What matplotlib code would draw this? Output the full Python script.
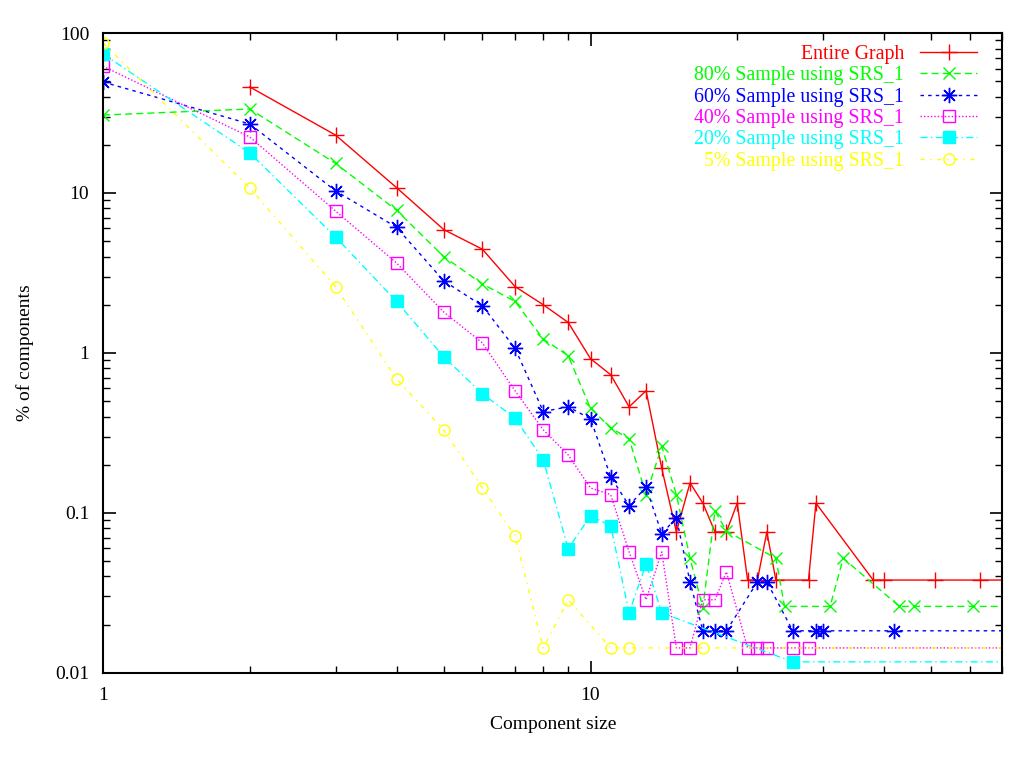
import matplotlib.pyplot as plt
from matplotlib.ticker import FixedLocator, NullFormatter, LogLocator

# component size -> % of components
entire_x = [2, 3, 4, 5, 6, 7, 8, 9, 10, 11, 12, 13, 14, 15, 16, 17, 18, 19, 20,
            21, 22, 23, 24, 28, 29, 38, 40, 51, 63, 90]
entire_y = [46, 23, 10.8, 5.9, 4.45, 2.6, 2.0, 1.55, 0.92, 0.73, 0.46, 0.58, 0.19,
            0.076, 0.154, 0.115, 0.076, 0.076, 0.115, 0.038, 0.038, 0.076, 0.038,
            0.038, 0.115, 0.038, 0.038, 0.038, 0.038, 0.038]

s80_x = [1, 2, 3, 4, 5, 6, 7, 8, 9, 10, 11, 12, 13, 14, 15, 16, 17, 18, 19, 24,
         25, 31, 33, 43, 46, 61, 90]
s80_y = [30.7, 33.5, 15.3, 7.8, 4.0, 2.7, 2.1, 1.22, 0.96, 0.45, 0.34, 0.29, 0.13,
         0.26, 0.13, 0.052, 0.0255, 0.103, 0.077, 0.052, 0.026, 0.026, 0.052,
         0.026, 0.026, 0.026, 0.026]

s60_x = [1, 2, 3, 4, 5, 6, 7, 8, 9, 10, 11, 12, 13, 14, 15, 16, 17, 18, 19, 22,
         23, 26, 29, 30, 42, 90]
s60_y = [49.4, 27, 10.3, 6.1, 2.82, 1.97, 1.07, 0.43, 0.46, 0.387, 0.168, 0.111,
         0.145, 0.074, 0.093, 0.037, 0.0183, 0.0183, 0.0183, 0.037, 0.037, 0.0183,
         0.0183, 0.0183, 0.0183, 0.0183]

s40_x = [1, 2, 3, 4, 5, 6, 7, 8, 9, 10, 11, 12, 13, 14, 15, 16, 17, 18, 19, 21,
         22, 23, 26, 28, 90]
s40_y = [62, 22.4, 7.7, 3.65, 1.8, 1.155, 0.58, 0.33, 0.23, 0.143, 0.13, 0.057,
         0.0286, 0.057, 0.0143, 0.0143, 0.0286, 0.0286, 0.0428, 0.0143, 0.0143,
         0.0143, 0.0143, 0.0143, 0.0143]

s20_x = [1, 2, 3, 4, 5, 6, 7, 8, 9, 10, 11, 12, 13, 14, 26, 90]
s20_y = [74, 17.8, 5.3, 2.1, 0.944, 0.555, 0.392, 0.214, 0.0596, 0.0958, 0.083,
         0.0237, 0.048, 0.0237, 0.0117, 0.0117]

s5_x = [1, 2, 3, 4, 5, 6, 7, 8, 9, 11, 12, 17, 90]
s5_y = [86.6, 10.75, 2.59, 0.688, 0.33, 0.143, 0.072, 0.0143, 0.0286, 0.0143,
        0.0143, 0.0143, 0.0143]

labels = ["Entire Graph", "80% Sample using SRS_1", "60% Sample using SRS_1",
          "40% Sample using SRS_1", "20% Sample using SRS_1", "5% Sample using SRS_1"]
series = [(entire_x, entire_y), (s80_x, s80_y), (s60_x, s60_y),
          (s40_x, s40_y), (s20_x, s20_y), (s5_x, s5_y)]

colors = ["#ff0000", "#00ff00", "#0000ff", "#ff00ff", "#00ffff", "#ffff00"]
styles = ["-", (0, (5, 3)), (0, (2.5, 3)), (0, (1, 1.5)), (0, (5, 2.5, 1, 2.5)),
          (0, (3, 4, 1, 4))]
markers = [dict(marker="+", ms=11, mew=1.0),
           dict(marker="x", ms=9, mew=1.0),
           dict(marker=(8, 2, 0), ms=11, mew=1.0),
           dict(marker="s", ms=8, mew=1.0, mfc="none"),
           dict(marker="s", ms=8, mew=1.0),
           dict(marker="o", ms=8, mew=1.0, mfc="none")]

plt.rcParams["font.family"] = ["Liberation Serif", "DejaVu Serif"]

fig = plt.figure(figsize=(10.24, 7.68), dpi=100)
ax = fig.add_axes([0.1006, 0.124, 0.8784, 0.833])

for (x, y), label, c, ls, mk in zip(series, labels, colors, styles, markers):
    ax.plot(x, y, color=c, linestyle=ls, linewidth=1.0, label=label, **mk)

ax.set_xscale("log")
ax.set_yscale("log")
ax.set_xlim(1, 70)
ax.set_ylim(0.01, 100)

ax.xaxis.set_major_locator(FixedLocator([1, 10]))
ax.xaxis.set_major_formatter(plt.FixedFormatter(["1", "10"]))
ax.xaxis.set_minor_locator(LogLocator(base=10, subs=range(2, 10)))
ax.xaxis.set_minor_formatter(NullFormatter())
ax.yaxis.set_major_locator(FixedLocator([0.01, 0.1, 1, 10, 100]))
ax.yaxis.set_major_formatter(plt.FixedFormatter(["0.01", "0.1", "1", "10", "100"]))
ax.yaxis.set_minor_locator(LogLocator(base=10, subs=range(2, 10)))
ax.yaxis.set_minor_formatter(NullFormatter())

ax.tick_params(which="both", direction="in", top=True, right=True, labelsize=14)
ax.tick_params(which="major", length=9, width=1.2, pad=10)
ax.tick_params(which="minor", length=5, width=1.0)
for sp in ax.spines.values():
    sp.set_linewidth(1.5)

ax.set_xlabel("Component size", fontsize=14, labelpad=9)
ax.set_ylabel("% of components", fontsize=14, labelpad=15)

leg = ax.legend(loc="upper right", bbox_to_anchor=(0.981, 0.994), borderaxespad=0,
                frameon=False, markerfirst=False, fontsize=14.3,
                handlelength=2.9, labelspacing=0.12, handletextpad=0.8)
for text, c in zip(leg.get_texts(), colors):
    text.set_color(c)

fig.savefig("out.png", dpi=100)
